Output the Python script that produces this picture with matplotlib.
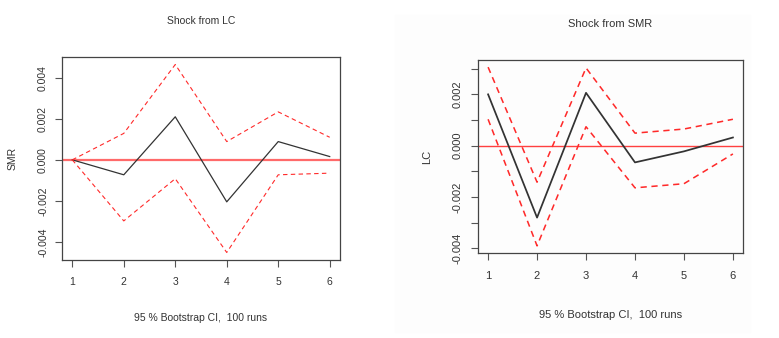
import matplotlib
matplotlib.use("Agg")
import matplotlib.pyplot as plt
from matplotlib.patches import Rectangle

plt.rcParams['font.family'] = ['Liberation Sans', 'DejaVu Sans']

# ---------------- data ----------------
steps = [1, 2, 3, 4, 5, 6]

# Shock from LC -> response of SMR
lc_irf   = [0.0, -0.00073, 0.00210, -0.00205, 0.00089, 0.00016]
lc_upper = [0.0, 0.00129, 0.00465, 0.00089, 0.00234, 0.00110]
lc_lower = [0.0, -0.00298, -0.00092, -0.00452, -0.00073, -0.00065]
lc_yticks = [-0.004, -0.002, 0.0, 0.002, 0.004]
lc_ylabels = ['-0.004', '-0.002', '0.000', '0.002', '0.004']

# Shock from SMR -> response of LC
smr_irf   = [0.00200, -0.00280, 0.00206, -0.00065, -0.00022, 0.00032]
smr_upper = [0.00306, -0.00142, 0.00303, 0.00049, 0.00065, 0.00103]
smr_lower = [0.00103, -0.00390, 0.00074, -0.00164, -0.00148, -0.00032]
smr_yticks = [-0.004, -0.003, -0.002, -0.001, 0.0, 0.001, 0.002, 0.003]
smr_ylabels = ['-0.004', '', '-0.002', '', '0.000', '', '0.002', '']

W, H = 779, 338
fig = plt.figure(figsize=(W / 100, H / 100), dpi=100)

# very faint grey backdrop behind the right screenshot
fig.patches.append(Rectangle((395 / W, 1 - 332 / H), 355 / W, 317 / H,
                             transform=fig.transFigure, color='#fdfdfd',
                             zorder=-10))


def panel(rect, irf, up, lo, yticks, ylabels, title, ylab, fs, lw_s,
          zero_col, zero_lw, title_pad, ylab_x, xlab_y, ypad, xpad):
    ax = fig.add_axes(rect)
    ax.patch.set_alpha(0)
    ax.plot(steps, irf, color='#333333', lw=0.9 * lw_s)
    ax.plot(steps, up, color='#ff2a2a', lw=0.8 * lw_s, ls=(0, (4, 3)))
    ax.plot(steps, lo, color='#ff2a2a', lw=0.8 * lw_s, ls=(0, (4, 3)))
    ax.axhline(0, color=zero_col, lw=zero_lw, zorder=1)

    lo_all, hi_all = min(lo), max(up)
    ext = (hi_all - lo_all) * 0.04
    ax.set_ylim(lo_all - ext, hi_all + ext)
    ax.set_xlim(0.8, 6.2)

    ax.set_xticks(steps)
    ax.set_xticklabels([str(s) for s in steps])
    ax.set_yticks(yticks)
    ax.set_yticklabels(ylabels, rotation=90, va='center')
    ax.tick_params(axis='both', direction='out', length=5, width=0.8,
                   colors='#555555', labelcolor='#333333', labelsize=fs)
    ax.tick_params(axis='y', pad=ypad)
    ax.tick_params(axis='x', pad=xpad)
    for sp in ax.spines.values():
        sp.set_color('#444444')
        sp.set_linewidth(0.9)

    ax.set_title(title, fontsize=fs, color='#333333', pad=title_pad)
    ax.set_ylabel(ylab, fontsize=fs, color='#333333')
    ax.yaxis.set_label_coords(ylab_x, 0.5)
    ax.set_xlabel('95 % Bootstrap CI,  100 runs', fontsize=fs, color='#333333')
    ax.xaxis.label.set_va('center')
    ax.xaxis.set_label_coords(0.5, xlab_y)
    return ax


panel([62 / W, 1 - 260 / H, 278 / W, 203 / H],
      lc_irf, lc_upper, lc_lower, lc_yticks, lc_ylabels,
      'Shock from LC', 'SMR', 7.5, 1.0, '#ff6a6a', 1.6, 24,
      -0.158, -0.286, 5, 7)

panel([478.3 / W, 1 - 253 / H, 264.4 / W, 193 / H],
      smr_irf, smr_upper, smr_lower, smr_yticks, smr_ylabels,
      'Shock from SMR', 'LC', 8, 1.4, '#ff4040', 1.0, 24,
      -0.176, -0.321, 6.5, 8)

fig.savefig('out.png', dpi=100)
